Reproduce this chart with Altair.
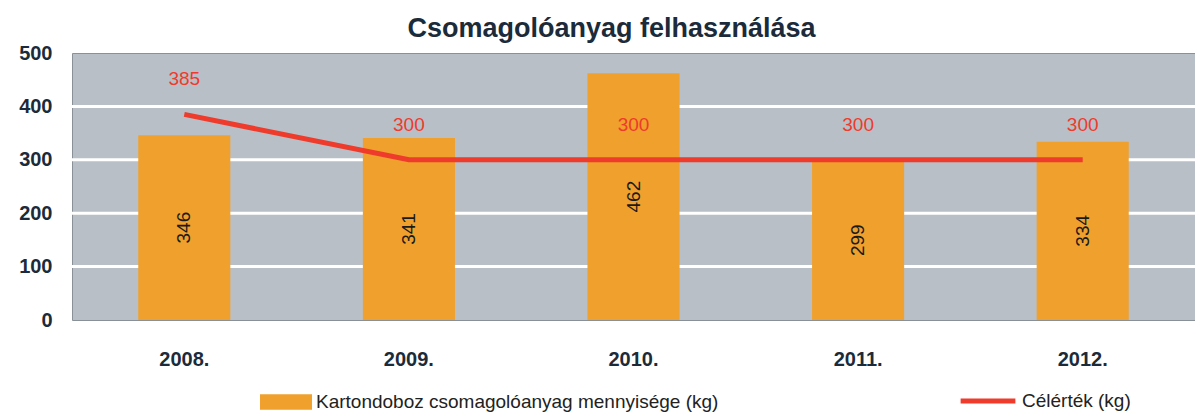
import altair as alt
import pandas as pd

years = ["2008.", "2009.", "2010.", "2011.", "2012."]
amounts = [346, 341, 462, 299, 334]
targets = [385, 300, 300, 300, 300]
grid_values = [100, 200, 300, 400]
bar_name = "Kartondoboz csomagolóanyag mennyisége (kg)"
line_name = "Célérték (kg)"

df = pd.DataFrame({"year": years, "amount": amounts, "target": targets,
                   "bar": [bar_name] * 5, "line": [line_name] * 5})
grid_df = pd.DataFrame({"v": grid_values})

FONT = "Liberation Sans"
DARK = "#1c2b3a"
ORANGE = "#f0a02c"
RED = "#ee3b2b"

x = alt.X("year:N", sort=years, title=None,
          scale=alt.Scale(paddingInner=0.59, paddingOuter=0.295),
          axis=alt.Axis(labelAngle=0, labelFontSize=20, labelFontWeight="bold",
                        labelColor=DARK, labelPadding=29, domain=False, ticks=False,
                        labelFont=FONT))
yscale = alt.Scale(domain=[0, 500], nice=False)

base = alt.Chart(df)

grid = alt.Chart(grid_df).mark_rule(color="white", strokeWidth=3).encode(
    y=alt.Y("v:Q", scale=yscale, title=None,
            axis=alt.Axis(values=[0, 100, 200, 300, 400, 500], labelFontSize=20,
                          labelFontWeight="bold", labelColor=DARK, labelPadding=20,
                          domain=False, ticks=False, grid=False, labelFont=FONT))
)

bars = base.mark_bar(color=ORANGE).encode(
    x=x,
    y=alt.Y("amount:Q", scale=yscale),
    fill=alt.Fill("bar:N", scale=alt.Scale(domain=[bar_name], range=[ORANGE]),
                  legend=alt.Legend(title=None, orient="none", legendX=188, legendY=323,
                                    symbolType="M-1,-0.3H1V0.3H-1Z", symbolSize=2700,
                                    symbolStrokeWidth=0, labelFontSize=19, labelFont=FONT,
                                    labelColor="#222222", labelOffset=4, labelLimit=600)),
)

bar_labels = base.transform_calculate(mid="datum.amount / 2").mark_text(
    angle=270, fontSize=19, font=FONT, color="#1a1a1a"
).encode(x=x, y=alt.Y("mid:Q", scale=yscale), text=alt.Text("amount:Q"))

line = base.mark_line(strokeWidth=5, color=RED).encode(
    x=x,
    y=alt.Y("target:Q", scale=yscale),
    stroke=alt.Stroke("line:N", scale=alt.Scale(domain=[line_name], range=[RED]),
                      legend=alt.Legend(title=None, orient="none", legendX=886, legendY=318,
                                        symbolType="stroke", symbolSize=3000,
                                        symbolStrokeWidth=5, labelFontSize=19, labelFont=FONT,
                                        labelColor="#222222", labelOffset=4, labelLimit=600)),
)

line_labels = base.mark_text(dy=-35, fontSize=19, font=FONT, color=RED).encode(
    x=x, y=alt.Y("target:Q", scale=yscale), text=alt.Text("target:Q"))

chart = alt.layer(grid, bars, bar_labels, line, line_labels).properties(
    width=1123, height=267,
    background="white",
    autosize=alt.AutoSizeParams(type="none"),
    padding={"left": 64, "top": 45, "right": 0, "bottom": 96},
    title=alt.TitleParams("Csomagolóanyag felhasználása", fontSize=27, font=FONT,
                          fontWeight="bold", color=DARK, anchor="middle", dx=-22, offset=0),
).configure_view(fill="#b9bfc7", stroke="#8a9098", strokeWidth=1)

chart.save("out.html", embed_options={"renderer": "svg", "actions": False})
